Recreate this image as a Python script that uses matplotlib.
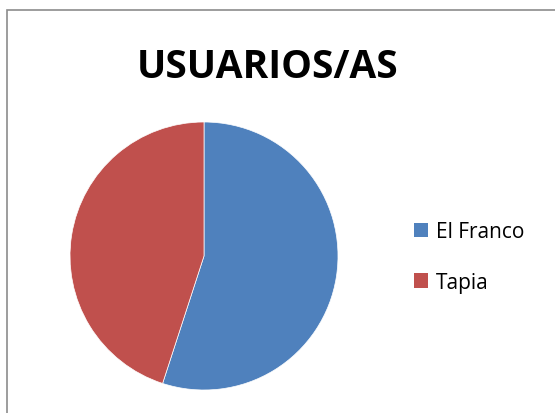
import matplotlib.pyplot as plt
from matplotlib.patches import Rectangle, Patch

labels = ['El Franco', 'Tapia']
values = [55, 45]
colors = ['#4F81BD', '#C0504D']

W, H = 555, 414
fig = plt.figure(figsize=(W / 100, H / 100), dpi=100)

# chart frame
fig.patches.append(Rectangle((7 / W, -0.01), 1.02, (H - 11) / H + 0.01,
                             transform=fig.transFigure, fill=False,
                             edgecolor='#8c8c8c', linewidth=1.2))

fig.text(268 / W, 1 - 67 / H, 'USUARIOS/AS', ha='center', va='center',
         fontsize=28, fontweight='bold', family='Open Sans')

cx, cy, r = 204, 257, 134
ax = fig.add_axes([(cx - r) / W, (H - cy - r) / H, 2 * r / W, 2 * r / H])
ax.pie(values, colors=colors, startangle=90, counterclock=False,
       wedgeprops=dict(edgecolor='white', linewidth=0.5))
ax.set_xlim(-1, 1)
ax.set_ylim(-1, 1)
ax.set_aspect('equal')

handles = [Patch(facecolor=c, label=l) for c, l in zip(colors, labels)]
fig.legend(handles=handles, loc='center left', bbox_to_anchor=(395 / W, 1 - 258 / H),
           frameon=False, prop={'family': 'Open Sans', 'size': 15},
           handlelength=0.7, handleheight=0.7, handletextpad=0.35, labelspacing=1.4)

fig.savefig('out.png', dpi=100)
